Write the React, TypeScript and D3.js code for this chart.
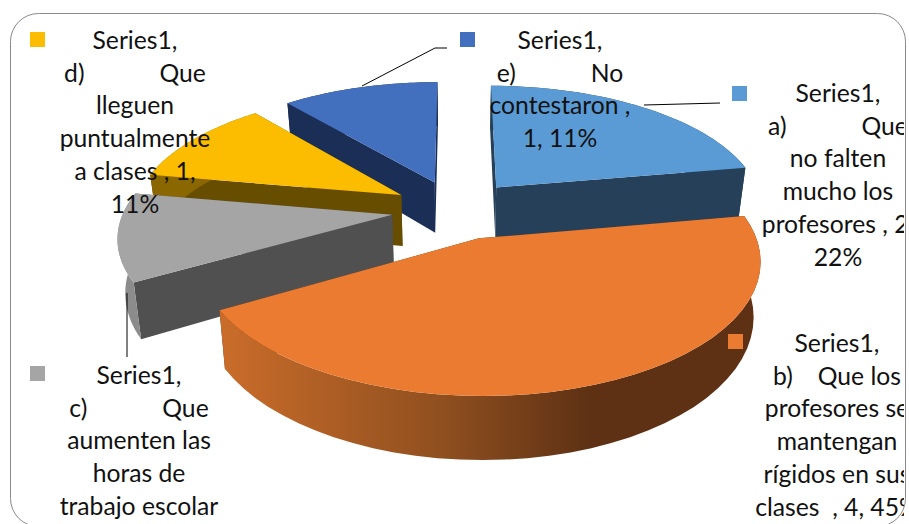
import React from "react";
import * as d3 from "d3";

// values
const categories = ["a", "b", "c", "d", "e"];
const values = [2, 4, 1, 1, 1];
const topColors = ["#5b9bd5", "#eb7b30", "#a5a5a5", "#fcbd00", "#4270be"];
const faceColors = ["#254058", "#5f3214", "#505050", "#664d00", "#1b2e55"];
const wallColors = ["#254058", "url(#wallB)", "#8c8c8c", "#8a6700", "#1b2e55"];
const drawOrder = ["e", "a", "d", "c", "b"];

// label text, [left, right] means a wide gap inside the line
type Line = string | [string, string, number];
const labelA: Line[] = ["Series1,", ["a)", "Que", 75], "no falten", "mucho los", "profesores , 2,", "22%"];
const labelB: Line[] = ["Series1,", ["b)", "Que los", 25], "profesores se", "mantengan", "rígidos en sus", "clases  , 4, 45%"];
const labelC: Line[] = ["Series1,", ["c)", "Que", 75], "aumenten las", "horas de", "trabajo escolar"];
const labelD: Line[] = ["Series1,", ["d)", "Que", 75], "lleguen", "puntualmente", "a clases , 1,", "11%"];
const labelE: Line[] = ["Series1,", ["e)", "No", 75], "contestaron ,", "1, 11%"];

const width = 909;
const height = 524;
const fontSize = 24.7;
const lineGap = 32.7;

// pie projection
const cx = 456;
const cy = 209.5;
const radius = 268;
const tilt = 123.5;
const depth = 52;
const viewDist = 6.5;
const explode = 0.24;
const shrink = 0.977;

const project = (X: number, Y: number, low: boolean) => {
  const s = viewDist / (viewDist - Y);
  const x = X * radius * s * (low ? shrink : 1);
  const y = Y * tilt * s + (low ? depth * s : 0);
  return [cx + x, cy + y] as [number, number];
};

const line = d3.line();

const arcs = d3.pie<number>().sort(null)(values);

const Slice = ({ index }: { index: number }) => {
  const a = arcs[index];
  const mid = (a.startAngle + a.endAngle) / 2;
  const ox = Math.sin(mid) * explode;
  const oy = -Math.cos(mid) * explode;
  const rim = (t: number, low: boolean) => project(ox + Math.sin(t), oy - Math.cos(t), low);
  const apex = (low: boolean) => project(ox, oy, low);
  const steps = d3.range(0, 41).map((i) => a.startAngle + ((a.endAngle - a.startAngle) * i) / 40);
  const face = (t: number) => line([apex(false), rim(t, false), rim(t, true), apex(true)]) + "Z";
  const wall = line([...steps.map((t) => rim(t, false)), ...steps.slice().reverse().map((t) => rim(t, true))]) + "Z";
  const top = line([apex(false), ...steps.map((t) => rim(t, false))]) + "Z";
  return (
    <g>
      <path d={face(a.startAngle)} fill={faceColors[index]} />
      <path d={face(a.endAngle)} fill={faceColors[index]} />
      <path d={wall} fill={wallColors[index]} />
      <path d={top} fill={topColors[index]} />
    </g>
  );
};

const Label = ({ lines, x, y }: { lines: Line[]; x: number; y: number }) => (
  <text fontFamily="Lato" fontSize={fontSize} fill="#111" textAnchor="middle">
    {lines.map((l, i) =>
      typeof l === "string" ? (
        <tspan key={i} x={x} y={y + i * lineGap} style={{ whiteSpace: "pre" }}>
          {l}
        </tspan>
      ) : (
        <tspan key={i} x={x} y={y + i * lineGap}>
          {l[0]}
          <tspan dx={l[2]}>{l[1]}</tspan>
        </tspan>
      ),
    )}
  </text>
);

const Marker = ({ x, y, color }: { x: number; y: number; color: string }) => (
  <rect x={x} y={y} width={15} height={15} fill={color} />
);

const App = () => {
  return (
    <svg width={width} height={height} style={{ position: "absolute", left: 0, top: 0 }}>
      <defs>
        <linearGradient id="wallB" gradientUnits="userSpaceOnUse" x1={225} x2={590} y1={0} y2={0}>
          <stop offset="0" stopColor="#c96c2a" />
          <stop offset="0.6" stopColor="#8f4f1f" />
          <stop offset="1" stopColor="#5e3114" />
        </linearGradient>
        <clipPath id="frameClip">
          <rect x={0} y={0} width={904} height={height} />
        </clipPath>
      </defs>
      <rect x={10.5} y={13.5} width={895} height={513} rx={28} fill="#fff" stroke="#8a8a8a" strokeWidth={1} />
      {drawOrder.map((c) => (
        <Slice key={c} index={categories.indexOf(c)} />
      ))}
      <g fill="none" stroke="#000" strokeWidth={1}>
        <path d="M362,86L435,48L447,48" />
        <path d="M644,105L720,103" />
        <path d="M127,293L127,357" />
      </g>
      <g clipPath="url(#frameClip)">
        <Label lines={labelD} x={135} y={49} />
        <Label lines={labelE} x={560} y={49} />
        <Label lines={labelA} x={838} y={102} />
        <Label lines={labelB} x={837} y={352} />
        <Label lines={labelC} x={139} y={384} />
      </g>
      <Marker x={30} y={32} color={topColors[3]} />
      <Marker x={460} y={32} color={topColors[4]} />
      <Marker x={732} y={86} color={topColors[0]} />
      <Marker x={728} y={334} color={topColors[1]} />
      <Marker x={30} y={366} color={topColors[2]} />
    </svg>
  );
};

export default App;
